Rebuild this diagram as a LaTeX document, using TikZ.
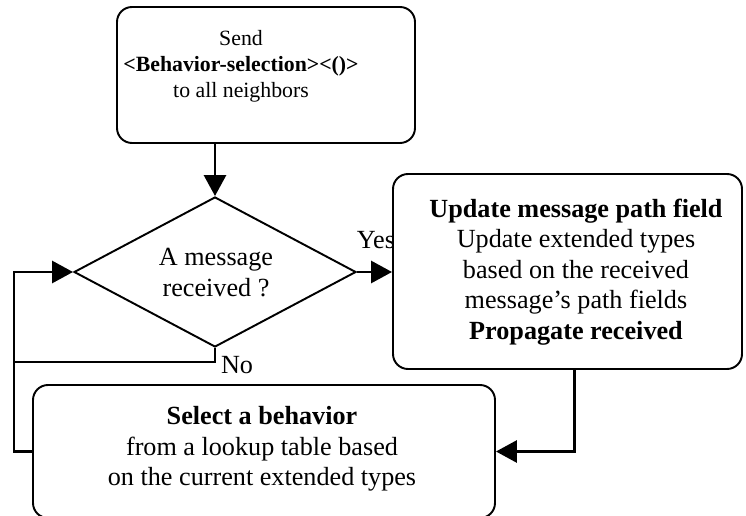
\documentclass[tikz,border=0pt]{standalone}
\usepackage{fontspec}
\setmainfont{Liberation Serif}
\usetikzlibrary{shapes.geometric,arrows.meta}

\tikzset{
  box/.style={draw, line width=1.1pt, rounded corners=0.3cm, inner sep=0pt},
  txt/.style={align=center, font=\fontsize{14.9}{17.3}\selectfont},
  flow/.style={line width=1.7pt, -{Triangle[length=0.42cm, width=0.44cm]}},
  link/.style={line width=1.7pt}
}

\begin{document}
\begin{tikzpicture}[scale=1]
\clip (0,0) rectangle (14.92,10.30);

% Boxes
\node[box, minimum width=5.96cm, minimum height=2.72cm] (send) at (5.32,8.80) {};
\node[align=center, font=\fontsize{12.4}{14.8}\selectfont] (sendtxt) at (4.82,8.98)
  {Send\\ \textbf{<Behavior-selection><()>}\\ to all neighbors};

\node[draw, diamond, line width=1.1pt, minimum width=5.64cm, minimum height=3.0cm,
  inner sep=0pt] (dec) at (4.30,4.86) {};
\node[txt] (dectxt) at (4.32,4.85) {A message\\ received ?};

\node[box, minimum width=6.98cm, minimum height=3.90cm] (upd) at (11.35,4.87) {};
\node[txt] (updtxt) at (11.52,4.86)
  {\textbf{Update message path field}\\ Update extended types\\ based on the received\\
   message's path fields\\ \textbf{Propagate received}};

\node[box, minimum width=9.24cm, minimum height=2.66cm] (sel) at (5.28,1.27) {};
\node[txt] (seltxt) at (5.24,1.32)
  {\textbf{Select a behavior}\\ from a lookup table based\\ on the current extended types};

% Connectors
\coordinate (loop) at (0.28,3.06);
\draw[flow] (send.south -| dec.north) -- (dec.north);
\draw[flow] (dec.east) -- (upd.west |- dec.east);
\draw[link] (dec.south) |- (loop);
\draw[flow] (sel.west) -- (sel.west -| loop) |- (dec.west);
\draw[flow] ([xshift=0.13cm]upd.south) |- (sel.east);

% Labels
\node[txt] (yes) at (7.52,5.50) {Yes};
\node[txt] (no) at (4.74,3.00) {No};
\end{tikzpicture}
\end{document}
